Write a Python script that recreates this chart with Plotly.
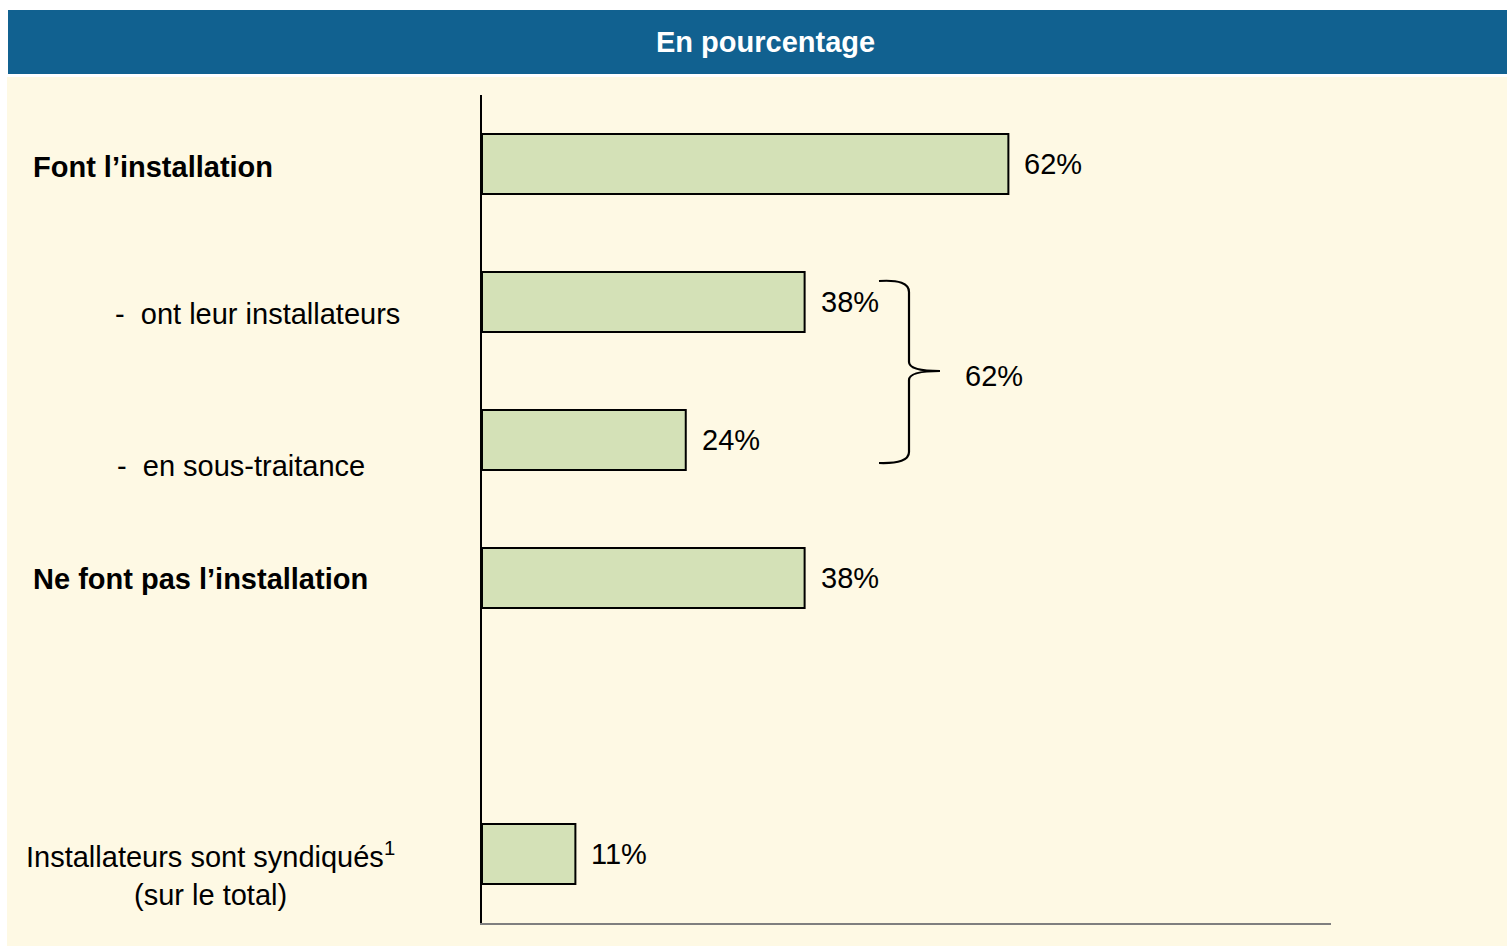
import plotly.graph_objects as go

# ---- data ----
categories = [
    "Font l’installation",
    "-  ont leur installateurs",
    "-  en sous-traitance",
    "Ne font pas l’installation",
    "Installateurs sont syndiqués<sup>1</sup><br>(sur le total)",
]
values = [62, 38, 24, 38, 11]
slots = [0, 1, 2, 3, 5]
value_labels = ["62%", "38%", "24%", "38%", "11%"]
bracket_label = "62%"
header_title = "En pourcentage"

# ---- layout constants ----
W, H = 1507, 946
ML, MR, MT, MB = 482, 176, 95, 23
PW, PH = W - ML - MR, H - MT - MB
FONT = "Liberation Sans, Arial, sans-serif"
FS = 29
CREAM = "#FEF9E4"
BLUE = "#116190"
BARFILL = "#D4E1B7"


def px_x(px):
    return (px - ML) / PW


def px_y(py):
    return (H - MB - py) / PH


def dx(px):
    return (px - ML) / PW * 100.0


def dy(py):
    return (py - MT) / PH * 6.0 - 0.5


fig = go.Figure()
fig.add_trace(go.Bar(
    x=values, y=slots, orientation="h", width=0.435,
    marker=dict(color=BARFILL, line=dict(color="black", width=2)),
    hoverinfo="skip",
))

shapes = [
    dict(type="rect", xref="paper", yref="paper", x0=px_x(7), x1=px_x(1507),
         y0=px_y(946), y1=px_y(77), fillcolor=CREAM, line=dict(width=0), layer="below"),
    dict(type="rect", xref="paper", yref="paper", x0=px_x(8), x1=px_x(1507),
         y0=px_y(74), y1=px_y(10), fillcolor=BLUE, line=dict(width=0), layer="below"),
]

# curly bracket grouping the two sub-bars
pts = [
    f"M {dx(879)},{dy(281)}",
    f"Q {dx(909)},{dy(279)} {dx(909)},{dy(292)}",
    f"L {dx(909)},{dy(362)}",
    f"Q {dx(909)},{dy(371)} {dx(940)},{dy(371)}",
    f"Q {dx(909)},{dy(371)} {dx(909)},{dy(380)}",
    f"L {dx(909)},{dy(452)}",
    f"Q {dx(909)},{dy(464)} {dx(879)},{dy(463)}",
]
shapes.append(dict(type="path", xref="x", yref="y", path=" ".join(pts),
                   line=dict(color="black", width=2.2)))

annotations = []
# header
annotations.append(dict(xref="paper", yref="paper", x=px_x(765), y=px_y(42),
                        text=f"<b>{header_title}</b>", showarrow=False,
                        font=dict(family=FONT, size=FS, color="white"),
                        xanchor="center", yanchor="middle"))
# value labels
for v, s, t in zip(values, slots, value_labels):
    annotations.append(dict(x=v, y=s, xref="x", yref="y", text=t, showarrow=False,
                            xanchor="left", yanchor="middle", xshift=14, yshift=0,
                            font=dict(family=FONT, size=FS, color="black")))
# bracket label
annotations.append(dict(x=dx(963), y=dy(376), xref="x", yref="y", text=bracket_label,
                        showarrow=False, xanchor="left", yanchor="middle",
                        font=dict(family=FONT, size=FS, color="black")))

# category labels (left side)
label_x = [31, 113, 115, 31, 210]
label_anchor = ["left", "left", "left", "left", "center"]
label_y = [167, 314, 466, 579, 874]
label_bold = [True, False, False, True, False]
for c, lx, la, ly, b in zip(categories, label_x, label_anchor, label_y, label_bold):
    annotations.append(dict(xref="paper", yref="paper", x=px_x(lx), y=px_y(ly),
                            text=f"<b>{c}</b>" if b else c, showarrow=False,
                            xanchor=la, yanchor="middle", align="center",
                            font=dict(family=FONT, size=FS, color="black")))

fig.update_layout(
    width=W, height=H,
    margin=dict(l=ML, r=MR, t=MT, b=MB, pad=0),
    paper_bgcolor="white", plot_bgcolor="rgba(0,0,0,0)",
    showlegend=False,
    shapes=shapes, annotations=annotations,
    xaxis=dict(range=[0, 100], showgrid=False, zeroline=False, showticklabels=False,
               ticks="", showline=True, linecolor="#7F7F7F", linewidth=2, fixedrange=True),
    yaxis=dict(range=[5.5, -0.5], showgrid=False, zeroline=False, showticklabels=False,
               ticks="", showline=True, linecolor="black", linewidth=2, fixedrange=True),
)

fig.write_html("out.html", config={"displayModeBar": False},
               post_script="document.body.style.margin='0';")
